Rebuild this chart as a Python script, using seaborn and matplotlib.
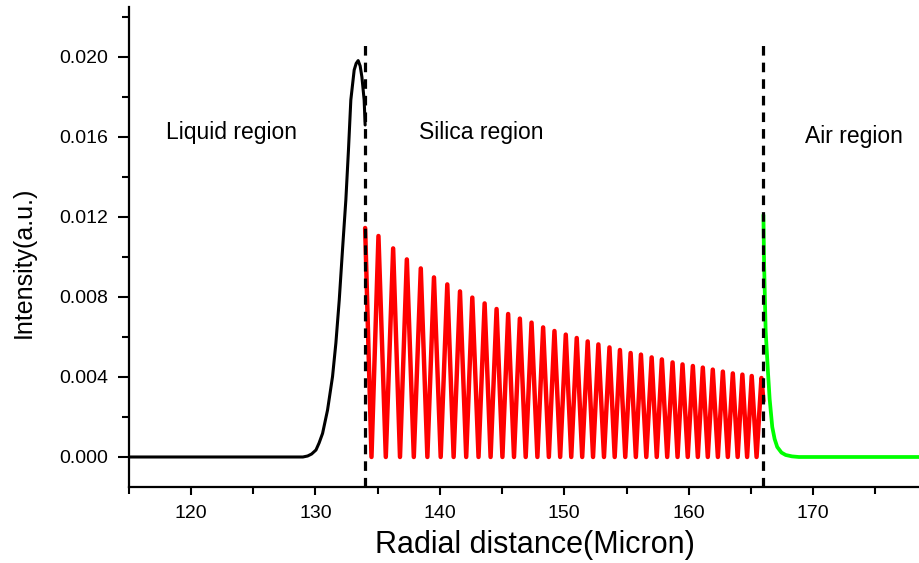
import matplotlib
matplotlib.use("Agg")
import matplotlib.pyplot as plt
from matplotlib.ticker import MultipleLocator, FormatStrFormatter
import pandas as pd
import seaborn as sns

# Intensity profile across the fibre cross-section (radial distance in microns)

# Liquid core: single bright peak just before the liquid/silica interface
liquid_x = [115.0, 129.0, 129.38, 129.7, 130.05, 130.3, 130.58, 130.98, 131.38,
            131.65, 131.92, 132.18, 132.45, 132.66, 132.85, 133.12, 133.28,
            133.44, 133.6, 133.74, 133.92, 134.0]
liquid_y = [0.0, 0.0, 0.00005, 0.00015, 0.00035, 0.0007, 0.00118, 0.00235, 0.00402,
            0.0057, 0.00785, 0.01035, 0.01285, 0.01535, 0.01785, 0.01935, 0.01968,
            0.01982, 0.01955, 0.0190, 0.01785, 0.0166]

# Silica cladding: interference fringes (maxima and minima)
fringe_peak_x = [134.0, 135.07, 136.25, 137.35, 138.47, 139.53, 140.60, 141.62,
                 142.61, 143.60, 144.56, 145.49, 146.43, 147.37, 148.30, 149.21,
                 150.12, 151.00, 151.88, 152.74, 153.63, 154.47, 155.33, 156.16,
                 157.02, 157.84, 158.70, 159.50, 160.33, 161.13, 161.93, 162.74,
                 163.54, 164.31, 165.06, 165.84]
fringe_peak_y = [0.01145, 0.01105, 0.01043, 0.00988, 0.00943, 0.00898, 0.00863,
                 0.00828, 0.00797, 0.00768, 0.00740, 0.00715, 0.00692, 0.00672,
                 0.00648, 0.00630, 0.00612, 0.00595, 0.00578, 0.00563, 0.00548,
                 0.00535, 0.00520, 0.00512, 0.00498, 0.00488, 0.00473, 0.00463,
                 0.00455, 0.00447, 0.00437, 0.00427, 0.00418, 0.00412, 0.00405,
                 0.00395]
fringe_min_x = [134.51, 135.66, 136.80, 137.91, 139.00, 140.07, 141.11, 142.12,
                143.11, 144.08, 145.03, 145.96, 146.90, 147.84, 148.76, 149.67,
                150.56, 151.44, 152.31, 153.19, 154.05, 154.90, 155.75, 156.59,
                157.43, 158.27, 159.10, 159.92, 160.73, 161.53, 162.34, 163.14,
                163.93, 164.69, 165.45]
fringe_min_y = [0.0] * len(fringe_min_x)
silica_end = (166.0, 0.0028)

# Air: evanescent tail outside the silica
air_x = [166.00, 166.05, 166.18, 166.37, 166.50, 166.71, 166.90, 167.11, 167.45,
         167.79, 168.30, 168.85, 178.5]
air_y = [0.0121, 0.0098, 0.0063, 0.0042, 0.0029, 0.0015, 0.0009, 0.0005, 0.00022,
         0.0001, 0.00003, 0.0, 0.0]

# Interfaces between regions
boundary_x = [134.0, 166.0]

region_names = ["Liquid region", "Silica region", "Air region"]
region_pos = [(123.3, 0.0162), (143.3, 0.0162), (173.3, 0.0160)]

# Assemble the fringe trace: max, min, max, ...
silica_x = [fringe_peak_x[0]]
silica_y = [fringe_peak_y[0]]
for mx, my, px, py in zip(fringe_min_x, fringe_min_y, fringe_peak_x[1:], fringe_peak_y[1:]):
    silica_x += [mx, px]
    silica_y += [my, py]
silica_x.append(silica_end[0])
silica_y.append(silica_end[1])

liquid = pd.DataFrame({"r": liquid_x, "I": liquid_y})
silica = pd.DataFrame({"r": silica_x, "I": silica_y})
air = pd.DataFrame({"r": air_x, "I": air_y})

sns.set_theme(style="ticks")
plt.rcParams["font.family"] = ["Liberation Sans", "DejaVu Sans"]

fig = plt.figure(figsize=(9.19, 5.63), dpi=100)
ax = fig.add_axes([0.140, 0.135, 0.860, 0.8526])

sns.lineplot(data=liquid, x="r", y="I", color="black", lw=2.2, ax=ax,
             estimator=None, sort=False, solid_joinstyle="round")
sns.lineplot(data=silica, x="r", y="I", color="#ff0000", lw=3.2, ax=ax,
             estimator=None, sort=False, solid_joinstyle="round")
sns.lineplot(data=air, x="r", y="I", color="#00ff00", lw=2.7, ax=ax,
             estimator=None, sort=False, solid_joinstyle="round")

ymin, ymax = -0.0015, 0.0225
ax.vlines(boundary_x, ymin, 0.0208, colors="black", linewidth=2.3,
          linestyles=(0, (3, 2.2)), zorder=5)

for name, (tx, ty) in zip(region_names, region_pos):
    ax.text(tx, ty, name, ha="center", va="center", fontsize=16.5, color="black")

ax.set_xlim(115, 178.5)
ax.set_ylim(ymin, ymax)

ax.xaxis.set_major_locator(MultipleLocator(10))
ax.xaxis.set_minor_locator(MultipleLocator(5))
ax.yaxis.set_major_locator(MultipleLocator(0.004))
ax.yaxis.set_minor_locator(MultipleLocator(0.002))
ax.xaxis.set_major_formatter(FormatStrFormatter("%d"))
ax.yaxis.set_major_formatter(FormatStrFormatter("%.3f"))

ax.tick_params(axis="both", which="both", direction="out", color="black",
               width=1.5, labelcolor="black", labelsize=14)
ax.tick_params(axis="y", which="major", length=8, pad=7)
ax.tick_params(axis="y", which="minor", length=5)
ax.tick_params(axis="x", which="major", length=6, pad=7)
ax.tick_params(axis="x", which="minor", length=5)

for side in ("top", "right"):
    ax.spines[side].set_visible(False)
for side in ("left", "bottom"):
    ax.spines[side].set_linewidth(1.6)
    ax.spines[side].set_color("black")
ax.grid(False)

ax.set_xlabel("Radial distance(Micron)", fontsize=22, color="black")
ax.set_ylabel("Intensity(a.u.)", fontsize=18, color="black")
ax.xaxis.set_label_coords(0.514, -0.09)
ax.yaxis.set_label_coords(-0.118, 0.469)

fig.savefig("out.png", dpi=100)
